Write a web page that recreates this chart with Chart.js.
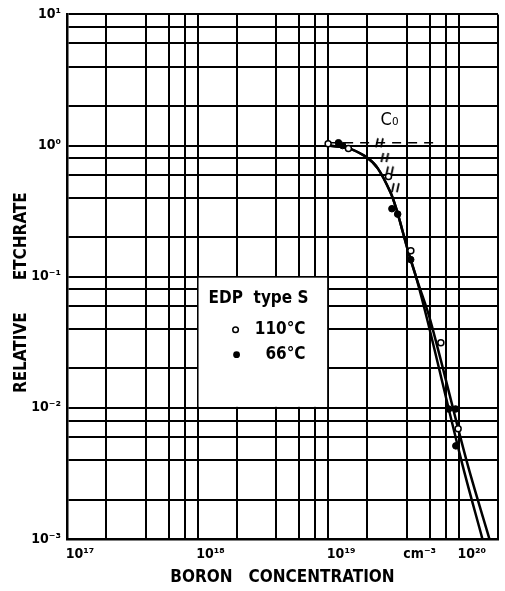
<!DOCTYPE html>
<html>
<head>
<meta charset="utf-8">
<script src="https://cdn.jsdelivr.net/npm/chart.js@4.4.1/dist/chart.umd.min.js"></script>
<style>
  html, body { margin: 0; padding: 0; background: #fff; }
</style>
</head>
<body>
<canvas id="etchChart" width="505" height="591"></canvas>
<script>
// grid: lines at 1, 2, 4, 6, 8 x 10^n
const gridSteps = [1, 2, 4, 6, 8];
const xDecades = [17, 18, 19, 20];
const yDecades = [-3, -2, -1, 0, 1];
const xMin = 1e17, xMax = 2e20;
const yMin = 1e-3, yMax = 1e1;

const xLabelValues = [1e17, 1e18, 1e19, 4e19, 1e20];
const xLabelTexts = ['10¹⁷', '10¹⁸', '10¹⁹', 'cm⁻³', '10²⁰'];
const yLabelValues = [1e-3, 1e-2, 1e-1, 1e0, 1e1];
const yLabelTexts = ['10⁻³', '10⁻²', '10⁻¹', '10⁰', '10¹'];

// fitted curves
const curveConc110 = [1.0e19, 1.25e19, 1.5e19, 1.95e19, 2.4e19, 3.0e19, 3.36e19, 3.71e19, 4.15e19, 4.74e19, 6.08e19, 1.15e20, 1.72e20];
const curveRate110 = [1.0, 0.98, 0.94, 0.82, 0.67, 0.44, 0.319, 0.224, 0.150, 0.098, 0.0461, 0.00394, 0.001];
const curveConc66 = [1.0e19, 1.25e19, 1.5e19, 1.95e19, 2.4e19, 3.0e19, 3.36e19, 3.71e19, 4.15e19, 4.74e19, 5.77e19, 1.05e20, 1.52e20];
const curveRate66 = [1.0, 0.98, 0.94, 0.82, 0.67, 0.44, 0.319, 0.224, 0.150, 0.098, 0.0461, 0.00394, 0.001];

// measured points
const pointsConc110 = [1.0e19, 1.43e19, 2.9e19, 4.3e19, 7.3e19, 9.9e19];
const pointsRate110 = [1.03, 0.95, 0.58, 0.158, 0.0313, 0.00692];
const pointsConc66 = [1.2e19, 1.29e19, 3.08e19, 3.41e19, 4.29e19, 8.37e19, 9.46e19, 9.51e19];
const pointsRate66 = [1.05, 1.0, 0.33, 0.30, 0.135, 0.0098, 0.0098, 0.00513];

// C0 reference line and break marks
const dashConc = [1.0e19, 7.0e19];
const dashRate = [1.05, 1.05];
const markConc = [2.47e19, 2.72e19, 2.96e19, 3.27e19];
const markRate = [1.05, 0.81, 0.64, 0.477];

const legendTitle = 'EDP  type S';
const legendNames = ['110°C', '66°C'];

const FONT = '"DejaVu Sans Condensed", "DejaVu Sans", sans-serif';

function toXY(xs, ys) {
  return xs.map((v, i) => ({ x: v, y: ys[i] }));
}

function gridValues(decades, min, max) {
  const out = [];
  decades.forEach(d => {
    gridSteps.forEach(s => {
      const v = s * Math.pow(10, d);
      if (v >= min * 0.9999 && v <= max * 1.0001) out.push(v);
    });
  });
  return out;
}

function labelFor(value, values, texts) {
  const i = values.findIndex(v => Math.abs(value / v - 1) < 1e-6);
  return i >= 0 ? texts[i] : '';
}

function makeBreakMark() {
  const c = document.createElement('canvas');
  c.width = 11; c.height = 11;
  const g = c.getContext('2d');
  g.strokeStyle = '#000';
  g.lineWidth = 1.8;
  g.beginPath();
  g.moveTo(2, 10); g.lineTo(4, 1);
  g.moveTo(7, 10); g.lineTo(9, 1);
  g.stroke();
  return c;
}

// white legend box covering one grid cell, plus the C0 label
const boxPlugin = {
  id: 'edpBox',
  beforeDatasetsDraw(chart) {
    const { ctx, scales: { x, y } } = chart;
    const l = x.getPixelForValue(1e18), r = x.getPixelForValue(1e19);
    const t = y.getPixelForValue(1e-1), b = y.getPixelForValue(1e-2);
    ctx.save();
    ctx.fillStyle = '#fff';
    ctx.fillRect(l + 1, t + 1, r - l - 2, b - t - 2);
    ctx.fillStyle = '#000';
    ctx.textBaseline = 'middle';
    ctx.font = 'bold 17px ' + FONT;
    ctx.textAlign = 'left';
    ctx.fillText(legendTitle, l + 11, t + 22);
    ctx.textAlign = 'right';
    ctx.fillText(legendNames[0], l + 108, t + 53);
    ctx.fillText(legendNames[1], l + 108, t + 78);
    ctx.lineWidth = 1.5;
    ctx.beginPath();
    ctx.arc(l + 38, t + 53, 2.8, 0, Math.PI * 2);
    ctx.stroke();
    ctx.beginPath();
    ctx.arc(l + 39, t + 78, 3.4, 0, Math.PI * 2);
    ctx.fill();
    ctx.restore();
  },
  afterDatasetsDraw(chart) {
    const { ctx, scales: { x, y } } = chart;
    ctx.save();
    ctx.fillStyle = '#000';
    ctx.font = '18px ' + FONT;
    ctx.textAlign = 'center';
    ctx.textBaseline = 'middle';
    ctx.fillText('C₀', x.getPixelForValue(2.95e19), y.getPixelForValue(1.55));
    ctx.restore();
  }
};

document.addEventListener('DOMContentLoaded', () => {
  const ctx = document.getElementById('etchChart').getContext('2d');
  new Chart(ctx, {
    type: 'scatter',
    data: {
      datasets: [
        {
          label: '110°C',
          data: toXY(pointsConc110, pointsRate110),
          pointStyle: 'circle',
          pointRadius: 3,
          borderColor: '#000',
          backgroundColor: '#fff',
          borderWidth: 1.5
        },
        {
          label: '66°C',
          data: toXY(pointsConc66, pointsRate66),
          pointStyle: 'circle',
          pointRadius: 3.3,
          borderColor: '#000',
          backgroundColor: '#000',
          borderWidth: 1
        },
        {
          label: 'C0 marks',
          data: toXY(markConc, markRate),
          pointStyle: makeBreakMark(),
          pointRadius: 5
        },
        {
          label: 'C0',
          data: toXY(dashConc, dashRate),
          showLine: true,
          borderColor: '#000',
          borderWidth: 1.5,
          borderDash: [9, 7],
          pointRadius: 0
        },
        {
          label: 'fit 110',
          data: toXY(curveConc110, curveRate110),
          showLine: true,
          borderColor: '#000',
          borderWidth: 2.5,
          tension: 0.35,
          pointRadius: 0
        },
        {
          label: 'fit 66',
          data: toXY(curveConc66, curveRate66),
          showLine: true,
          borderColor: '#000',
          borderWidth: 2.5,
          tension: 0.35,
          pointRadius: 0
        }
      ]
    },
    options: {
      responsive: false,
      animation: false,
      devicePixelRatio: 1,
      layout: { padding: { top: 13, right: 5, left: 0, bottom: 0 } },
      plugins: {
        legend: { display: false },
        tooltip: { enabled: false }
      },
      scales: {
        x: {
          type: 'logarithmic',
          min: xMin,
          max: xMax,
          afterBuildTicks: (scale) => {
            scale.ticks = gridValues(xDecades, xMin, xMax).map(v => ({ value: v }));
          },
          afterFit: (scale) => { scale.height = 52; },
          ticks: {
            autoSkip: false,
            maxRotation: 0,
            padding: 7,
            labelOffset: 13,
            color: '#000',
            font: { family: FONT, size: 14, weight: 'bold' },
            callback: (val) => labelFor(val, xLabelValues, xLabelTexts)
          },
          grid: { color: '#000', lineWidth: 2, drawTicks: false },
          border: { color: '#000', width: 2.5 },
          title: {
            display: true,
            text: 'BORON   CONCENTRATION',
            color: '#000',
            padding: { top: 0, bottom: 3 },
            font: { family: FONT, size: 17, weight: 'bold' }
          }
        },
        y: {
          type: 'logarithmic',
          min: yMin,
          max: yMax,
          afterBuildTicks: (scale) => {
            scale.ticks = gridValues(yDecades, yMin, yMax).map(v => ({ value: v }));
          },
          afterFit: (scale) => { scale.width = 67; },
          ticks: {
            autoSkip: false,
            padding: 6,
            color: '#000',
            font: { family: FONT, size: 14, weight: 'bold' },
            callback: (val) => labelFor(val, yLabelValues, yLabelTexts)
          },
          grid: { color: '#000', lineWidth: 2, drawTicks: false },
          border: { color: '#000', width: 2.5 },
          title: {
            display: true,
            text: 'RELATIVE      ETCHRATE      ',
            color: '#000',
            padding: { top: 11, bottom: 0 },
            font: { family: FONT, size: 17, weight: 'bold' }
          }
        }
      }
    },
    plugins: [boxPlugin]
  });
});
</script>
</body>
</html>
